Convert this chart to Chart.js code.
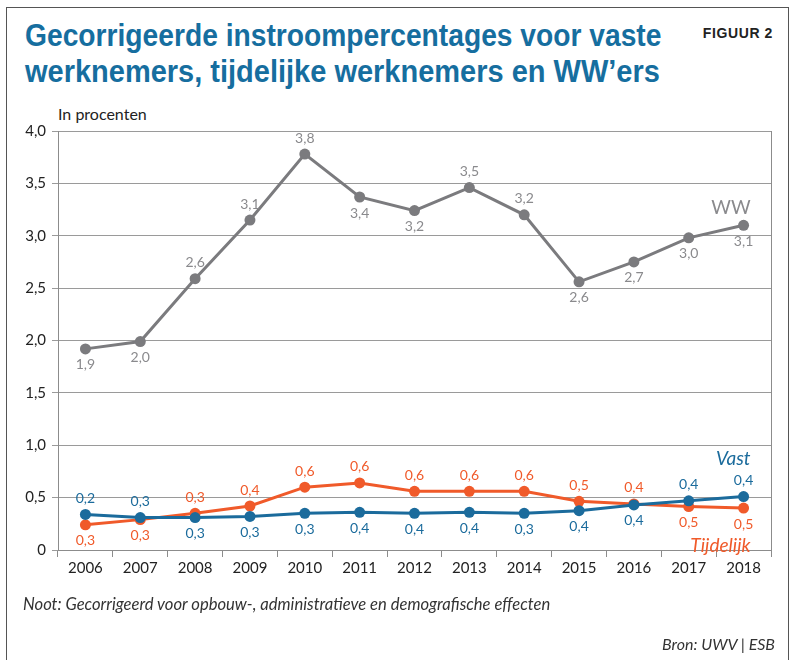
<!DOCTYPE html>
<html>
<head>
<meta charset="utf-8">
<script src="https://cdn.jsdelivr.net/npm/chart.js@4"></script>
<style>
  body { margin: 0; background: #fff; }
  #page { position: relative; width: 795px; height: 660px; overflow: hidden; font-family: Lato, "Open Sans", sans-serif; }
  #frame { position: absolute; left: 6px; top: 7px; width: 781px; height: 700px; border: 1.5px solid #555; }
  .title { position: absolute; left: 25px; margin: 0; white-space: nowrap; font-family: "Liberation Sans", Arial, sans-serif; font-weight: bold; font-size: 31px; line-height: 36px; color: #166e9f; transform-origin: 0 0; }
  #t1 { top: 18px; }
  #t2 { top: 54px; }
  #fig { position: absolute; right: 22px; top: 25px; font-family: "Liberation Sans", sans-serif; font-weight: bold; font-size: 14px; color: #222; letter-spacing: 0.6px; }
  #unit { position: absolute; left: 58px; top: 104px; font-size: 16px; color: #222; }
  #note { position: absolute; left: 23px; top: 594px; font-size: 16.6px; font-style: italic; color: #333; }
  #source { position: absolute; right: 20px; top: 634px; font-size: 16px; font-style: italic; color: #333; }
  canvas { position: absolute; left: 0; top: 0; }
</style>
</head>
<body>
<div id="page">
  <div id="frame"></div>
  <div class="title" id="t1">Gecorrigeerde instroompercentages voor vaste</div>
  <div class="title" id="t2">werknemers, tijdelijke werknemers en WW’ers</div>
  <div id="fig">FIGUUR 2</div>
  <div id="unit">In procenten</div>
  <canvas id="lineChart" width="795" height="660"></canvas>
  <div id="note">Noot: Gecorrigeerd voor opbouw-, administratieve en demografische effecten</div>
  <div id="source">Bron: UWV | ESB</div>
</div>
<script>
// data
const years = ['2006', '2007', '2008', '2009', '2010', '2011', '2012', '2013', '2014', '2015', '2016', '2017', '2018'];
const wwValues = [1.92, 1.99, 2.59, 3.15, 3.78, 3.37, 3.24, 3.46, 3.20, 2.56, 2.75, 2.98, 3.10];
const vastValues = [0.34, 0.31, 0.31, 0.32, 0.35, 0.36, 0.35, 0.36, 0.35, 0.375, 0.43, 0.47, 0.51];
const tijdelijkValues = [0.24, 0.29, 0.35, 0.42, 0.60, 0.64, 0.56, 0.56, 0.56, 0.465, 0.44, 0.415, 0.40];

// printed labels (as in the source figure)
const wwLabels = ['1,9', '2,0', '2,6', '3,1', '3,8', '3,4', '3,2', '3,5', '3,2', '2,6', '2,7', '3,0', '3,1'];
const vastLabels = ['0,2', '0,3', '0,3', '0,3', '0,3', '0,4', '0,4', '0,4', '0,3', '0,4', '0,4', '0,4', '0,4'];
const tijdelijkLabels = ['0,3', '0,3', '0,3', '0,4', '0,6', '0,6', '0,6', '0,6', '0,6', '0,5', '0,4', '0,5', '0,5'];
const yTickLabels = ['0', '0,5', '1,0', '1,5', '2,0', '2,5', '3,0', '3,5', '4,0'];

// label side per point: 1 = above, -1 = below
const wwSide = [-1, -1, 1, 1, 1, -1, -1, 1, 1, -1, -1, -1, -1];
const vastSide = [1, 1, -1, -1, -1, -1, -1, -1, -1, -1, -1, 1, 1];
const tijdelijkSide = [-1, -1, 1, 1, 1, 1, 1, 1, 1, 1, 1, -1, -1];

const grey = '#7b7b7e';
const blue = '#1b6b9c';
const orange = '#f05a2a';

// titelregels smaller maken tot de breedte in het origineel
const t1 = document.getElementById('t1');
const t2 = document.getElementById('t2');
t1.style.transform = 'scaleX(' + (636 / t1.scrollWidth) + ')';
t2.style.transform = 'scaleX(' + (635 / t2.scrollWidth) + ')';

// waardelabels + serienamen
const labelPlugin = {
    id: 'labelPlugin',
    afterDatasetsDraw(chart) {
        const ctx = chart.ctx;
        const sets = [
            { labels: wwLabels, side: wwSide, color: '#8a8a8d', name: 'WW', italic: false, nameDy: -17 },
            { labels: vastLabels, side: vastSide, color: blue, name: 'Vast', italic: true, nameDy: -38 },
            { labels: tijdelijkLabels, side: tijdelijkSide, color: orange, name: 'Tijdelijk', italic: true, nameDy: 38 }
        ];
        ctx.save();
        ctx.textAlign = 'center';
        ctx.textBaseline = 'middle';
        sets.forEach((s, i) => {
            const pts = chart.getDatasetMeta(i).data;
            ctx.fillStyle = s.color;
            ctx.font = '14px Lato, sans-serif';
            pts.forEach((p, j) => {
                ctx.fillText(s.labels[j], p.x, p.y - s.side[j] * 16);
            });
            const last = pts[pts.length - 1];
            ctx.font = (s.italic ? 'italic ' : '') + '19px Lato, sans-serif';
            ctx.textAlign = 'right';
            ctx.fillText(s.name, last.x + 7, last.y + s.nameDy);
            ctx.textAlign = 'center';
        });
        ctx.restore();
    }
};

// rechter kaderlijn
const framePlugin = {
    id: 'framePlugin',
    beforeDatasetsDraw(chart) {
        const a = chart.chartArea;
        const ctx = chart.ctx;
        ctx.save();
        ctx.strokeStyle = '#8c8c8c';
        ctx.lineWidth = 1;
        ctx.beginPath();
        ctx.moveTo(a.right + 0.5, a.top);
        ctx.lineTo(a.right + 0.5, a.bottom);
        ctx.stroke();
        ctx.restore();
    }
};

const lineCtx = document.getElementById('lineChart').getContext('2d');
const lineChart = new Chart(lineCtx, {
    type: 'line',
    data: {
        labels: years,
        datasets: [
            { label: 'WW', data: wwValues, borderColor: grey, backgroundColor: grey },
            { label: 'Vast', data: vastValues, borderColor: blue, backgroundColor: blue },
            { label: 'Tijdelijk', data: tijdelijkValues, borderColor: orange, backgroundColor: orange }
        ]
    },
    options: {
        responsive: false,
        animation: false,
        layout: { padding: { left: 0, right: 24, top: 131, bottom: 70 } },
        elements: {
            line: { borderWidth: 3, tension: 0 },
            point: { radius: 5.5, borderWidth: 0 }
        },
        plugins: {
            legend: { display: false },
            tooltip: { enabled: false }
        },
        scales: {
            x: {
                offset: true,
                grid: { offset: true, drawOnChartArea: false, drawTicks: true, tickLength: 7, color: '#8c8c8c' },
                border: { color: '#8c8c8c', width: 1 },
                ticks: { color: '#222', font: { family: 'Lato', size: 15 }, padding: 2, maxRotation: 0 },
                afterFit(scale) { scale.height = 40; }
            },
            y: {
                min: 0,
                max: 4,
                grid: { color: '#9a9a9a', tickLength: 6, lineWidth: 1 },
                border: { color: '#8c8c8c', width: 1 },
                ticks: {
                    stepSize: 0.5,
                    color: '#222',
                    font: { family: 'Lato', size: 15 },
                    padding: 6,
                    callback: (v, i) => yTickLabels[i]
                },
                afterFit(scale) { scale.width = 58; }
            }
        }
    },
    plugins: [framePlugin, labelPlugin]
});
</script>
</body>
</html>
